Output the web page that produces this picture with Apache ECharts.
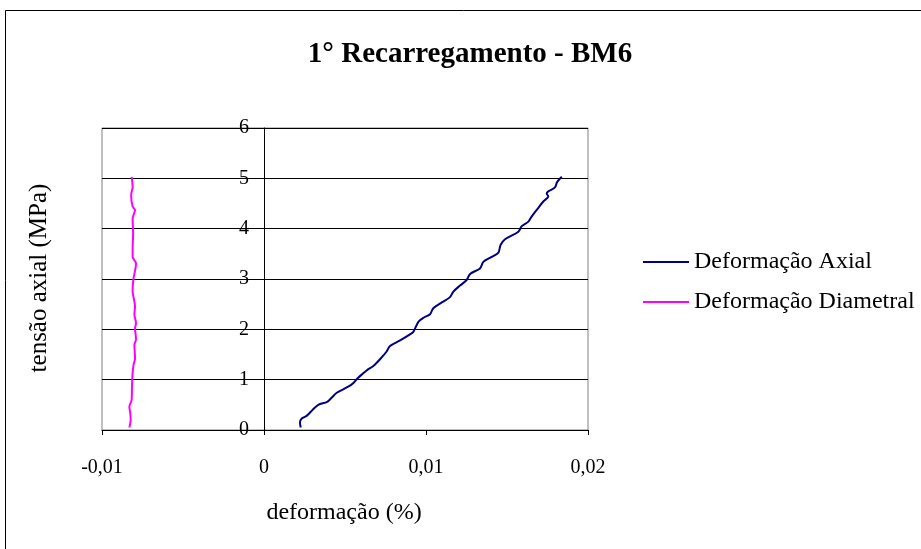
<!DOCTYPE html>
<html>
<head>
<meta charset="utf-8">
<script src="https://cdn.jsdelivr.net/npm/echarts@6/dist/echarts.min.js"></script>
<style>html,body{margin:0;padding:0;background:#fff;}#c{width:921px;height:549px;}</style>
</head>
<body>
<div id="c"></div>
<script>
var titleText = '1° Recarregamento - BM6';
var xAxisName = 'deformação (%)';
var yAxisName = 'tensão axial (MPa)';
var seriesNames = ['Deformação Axial', 'Deformação Diametral'];
var xTicks = [-0.01, 0, 0.01, 0.02];
var yTicks = [0, 1, 2, 3, 4, 5, 6];

var axialX = [0.00227,0.00222,0.00233,0.00263,0.00300,0.00335,0.00390,0.00420,0.00449,0.00520,0.00550,0.00572,0.00610,0.00644,0.00675,0.00720,0.00757,0.00778,0.00840,0.00901,0.00922,0.00953,0.00990,0.01025,0.01045,0.01100,0.01148,0.01169,0.01210,0.01251,0.01272,0.01333,0.01354,0.01400,0.01446,0.01461,0.01488,0.01570,0.01591,0.01632,0.01652,0.01690,0.01724,0.01755,0.01745,0.01755,0.01796,0.01810,0.01838];
var axialY = [0.05,0.15,0.23,0.28,0.40,0.50,0.56,0.65,0.74,0.86,0.93,1.01,1.12,1.21,1.27,1.42,1.56,1.67,1.78,1.90,1.95,2.15,2.24,2.30,2.42,2.54,2.64,2.75,2.87,2.98,3.10,3.21,3.34,3.43,3.52,3.68,3.79,3.94,4.05,4.14,4.24,4.40,4.54,4.64,4.70,4.74,4.82,4.93,5.03];

var diamX = [-0.00831,-0.00823,-0.00826,-0.00831,-0.00817,-0.00815,-0.00811,-0.00805,-0.00796,-0.00800,-0.00790,-0.00796,-0.00790,-0.00800,-0.00796,-0.00804,-0.00811,-0.00807,-0.00790,-0.00811,-0.00811,-0.00808,-0.00811,-0.00796,-0.00811,-0.00820,-0.00811,-0.00817];
var diamY = [0.05,0.20,0.35,0.46,0.60,0.85,1.13,1.30,1.42,1.69,1.80,2.02,2.12,2.30,2.45,2.62,2.75,2.98,3.31,3.44,3.58,3.91,4.20,4.37,4.44,4.67,4.83,5.03];

function zip(a, b) { return a.map(function (v, i) { return [v, b[i]]; }); }
function fmt(v) { return String(v).replace('.', ','); }

var FONT = 'Liberation Serif';
var chart = echarts.init(document.getElementById('c'), null, { renderer: 'canvas' });
chart.setOption({
  animation: false,
  backgroundColor: '#fff',
  textStyle: { fontFamily: FONT },
  grid: { left: 102, top: 128, width: 486, height: 302, show: true, borderColor: '#808080', borderWidth: 1, backgroundColor: 'transparent' },
  xAxis: {
    type: 'value', min: xTicks[0], max: xTicks[xTicks.length - 1], interval: 0.01,
    axisLine: { show: true, onZero: true, lineStyle: { color: '#000', width: 1 } },
    axisTick: { show: true, inside: false, length: 5, lineStyle: { color: '#000' } },
    axisLabel: { color: '#000', fontSize: 20, fontFamily: FONT, margin: 28, formatter: fmt },
    splitLine: { show: false }
  },
  yAxis: {
    type: 'value', min: yTicks[0], max: yTicks[yTicks.length - 1], interval: 1,
    axisLine: { show: true, onZero: true, lineStyle: { color: '#000', width: 1 } },
    axisTick: { show: true, inside: false, length: 4, lineStyle: { color: '#000' } },
    axisLabel: { color: '#000', fontSize: 20, fontFamily: FONT, margin: -147, formatter: fmt },
    splitLine: { show: true, lineStyle: { color: '#000', width: 1 } }
  },
  legend: {
    orient: 'vertical', left: 643, top: 250, padding: 0,
    itemWidth: 46, itemHeight: 2, itemGap: 16,
    icon: 'rect',
    textStyle: { color: '#000', fontSize: 24, fontFamily: FONT, lineHeight: 24 },
    data: seriesNames
  },
  series: [
    { name: seriesNames[0], type: 'line', data: zip(axialX, axialY), showSymbol: false, smooth: 0.3,
      lineStyle: { color: '#000080', width: 2 }, itemStyle: { color: '#000080' } },
    { name: seriesNames[1], type: 'line', data: zip(diamX, diamY), showSymbol: false, smooth: 0.3,
      lineStyle: { color: '#FF00FF', width: 2 }, itemStyle: { color: '#FF00FF' } }
  ],
  graphic: [
    { type: 'rect', shape: { x: 5.5, y: 10.5, width: 940, height: 560 }, style: { fill: 'none', stroke: '#000', lineWidth: 1 }, silent: true },
    { type: 'text', x: 470, y: 55, style: { text: titleText, fontFamily: FONT, fontSize: 29, fontWeight: 'bold', fill: '#000', textAlign: 'center', textVerticalAlign: 'middle' } },
    { type: 'text', x: 39, y: 278, rotation: Math.PI / 2, style: { text: yAxisName, fontFamily: FONT, fontSize: 25, fill: '#000', textAlign: 'center', textVerticalAlign: 'middle' } },
    { type: 'text', x: 344, y: 513, style: { text: xAxisName, fontFamily: FONT, fontSize: 24, fill: '#000', textAlign: 'center', textVerticalAlign: 'middle' } }
  ]
});
</script>
</body>
</html>
